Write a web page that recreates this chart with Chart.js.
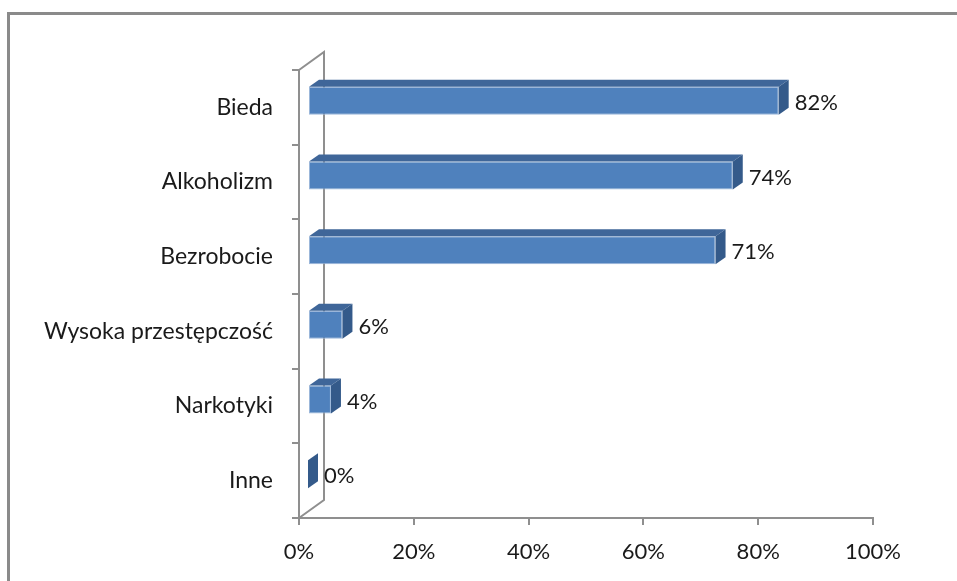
<!DOCTYPE html>
<html>
<head>
<meta charset="utf-8">
<script src="https://cdn.jsdelivr.net/npm/chart.js@4"></script>
<style>
  html, body { margin: 0; padding: 0; background: #fff; overflow: hidden; }
  #wrap { position: relative; width: 957px; height: 581px; overflow: hidden; }
  #ramka { position: absolute; left: 7px; top: 12px; width: 950px; height: 569px;
           border-left: 3px solid #8a8a8a; border-top: 3px solid #8a8a8a; box-sizing: border-box; }
  #box { position: absolute; left: 0; top: 0; width: 957px; height: 581px; }
</style>
</head>
<body>
<div id="wrap">
  <div id="ramka"></div>
  <div id="box"><canvas id="wykres"></canvas></div>
</div>
<script>
const kategorie = ["Bieda", "Alkoholizm", "Bezrobocie", "Wysoka przestępczość", "Narkotyki", "Inne"];
const wartosci = [82, 74, 71, 6, 4, 0];
const osX = [0, 20, 40, 60, 80, 100];

const FONT = "Lato, 'Open Sans', sans-serif";
// głębia 3D: ściana tylna przesunięta o (25,-18), słupek od 0.36 do 0.76 głębi
const GL = { dx: 25, dy: -18 };
const PRZOD = { dx: 9, dy: -6.5 };
const SLUPEK = { dx: 10, dy: -7 };

const sciany = {
  id: "sciany",
  beforeDatasetsDraw(chart) {
    const a = chart.chartArea;
    const ctx = chart.ctx;
    ctx.save();
    ctx.strokeStyle = "#8f8f8f";
    ctx.lineWidth = 2;
    ctx.beginPath();
    ctx.moveTo(a.left, a.top);
    ctx.lineTo(a.left + GL.dx, a.top + GL.dy);
    ctx.lineTo(a.left + GL.dx, a.bottom + GL.dy);
    ctx.lineTo(a.left, a.bottom);
    ctx.stroke();
    ctx.restore();
  },
};

const slupki3d = {
  id: "slupki3d",
  beforeDatasetDraw(chart) {
    chart.ctx.save();
    chart.ctx.translate(PRZOD.dx, PRZOD.dy);
  },
  afterDatasetDraw(chart, args) {
    const ctx = chart.ctx;
    args.meta.data.forEach((el) => {
      const p = el.getProps(["x", "y", "base", "height"], true);
      const t = p.y - p.height / 2;
      const b = p.y + p.height / 2;
      // górna ściana
      ctx.fillStyle = "#3f6699";
      ctx.beginPath();
      ctx.moveTo(p.base, t);
      ctx.lineTo(p.base + SLUPEK.dx, t + SLUPEK.dy);
      ctx.lineTo(p.x + SLUPEK.dx, t + SLUPEK.dy);
      ctx.lineTo(p.x, t);
      ctx.closePath();
      ctx.fill();
      // boczna ściana
      ctx.fillStyle = "#345a8a";
      ctx.beginPath();
      ctx.moveTo(p.x, t);
      ctx.lineTo(p.x + SLUPEK.dx, t + SLUPEK.dy);
      ctx.lineTo(p.x + SLUPEK.dx, b + SLUPEK.dy);
      ctx.lineTo(p.x, b);
      ctx.closePath();
      ctx.fill();
    });
    ctx.restore();
  },
  afterDatasetsDraw(chart) {
    const ctx = chart.ctx;
    const meta = chart.getDatasetMeta(0);
    ctx.save();
    ctx.fillStyle = "#1a1a1a";
    ctx.font = "22px " + FONT;
    ctx.textBaseline = "middle";
    ctx.textAlign = "left";
    meta.data.forEach((el, i) => {
      const x = el.x + PRZOD.dx + SLUPEK.dx + 6;
      const y = el.y + PRZOD.dy + 2;
      ctx.fillText(wartosci[i] + "%", x, y);
    });
    ctx.restore();
  },
};

new Chart(document.getElementById("wykres"), {
  type: "bar",
  data: {
    labels: kategorie,
    datasets: [{
      data: wartosci,
      backgroundColor: "#4f81bd",
      borderColor: "#9bb7da",
      borderWidth: 1,
      borderSkipped: false,
      barPercentage: 0.375,
      categoryPercentage: 1,
      clip: false,
    }],
  },
  options: {
    indexAxis: "y",
    responsive: true,
    maintainAspectRatio: false,
    animation: false,
    layout: { padding: { top: 70, right: 84, left: 0, bottom: 0 } },
    plugins: { legend: { display: false }, tooltip: { enabled: false } },
    scales: {
      x: {
        min: 0,
        max: 100,
        afterFit: (s) => { s.height = 63; },
        afterBuildTicks: (s) => { s.ticks = osX.map((v) => ({ value: v })); },
        grid: { drawOnChartArea: false, color: "#8f8f8f", lineWidth: 2, tickLength: 7 },
        border: { color: "#8f8f8f", width: 2 },
        ticks: {
          padding: 14,
          color: "#1a1a1a",
          font: { family: FONT, size: 22 },
          callback: (v) => v + "%",
        },
      },
      y: {
        afterFit: (s) => { s.width = 299; },
        grid: { drawOnChartArea: false, color: "#8f8f8f", lineWidth: 2, tickLength: 7, offset: true },
        border: { color: "#8f8f8f", width: 2 },
        ticks: {
          padding: 19,
          color: "#1a1a1a",
          font: { family: FONT, size: 23 },
        },
      },
    },
  },
  plugins: [sciany, slupki3d],
});
</script>
</body>
</html>
